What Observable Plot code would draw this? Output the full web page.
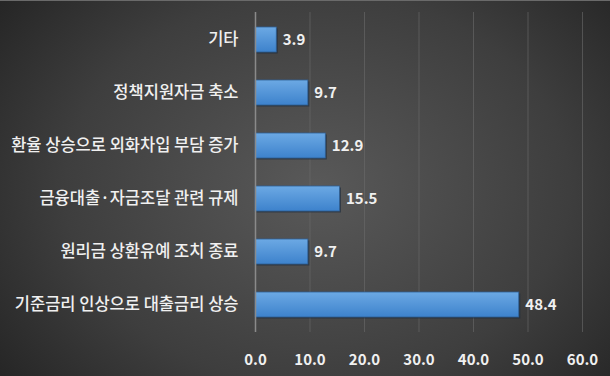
<!DOCTYPE html>
<html><head><meta charset="utf-8">
<script src="https://cdn.jsdelivr.net/npm/d3@7"></script>
<script src="https://cdn.jsdelivr.net/npm/@observablehq/plot@0.6"></script>
<style>
html,body{margin:0;padding:0;}
#chart{width:610px;height:376px;overflow:hidden;
 background: radial-gradient(ellipse 75% 95% at 52% 50%, #595959 0%, #3e3e3e 55%, #1c1c1c 100%);
 border-top:1px solid #6a6a6a; box-sizing:border-box;}
svg{display:block;}
</style></head>
<body><div id="chart"></div>
<script>
const categories = ["기타","정책지원자금 축소","환율 상승으로 외화차입 부담 증가","금융대출·자금조달 관련 규제","원리금 상환유예 조치 종료","기준금리 인상으로 대출금리 상승"];
const values = [3.9, 9.7, 12.9, 15.5, 9.7, 48.4];
const xTicks = [0,10,20,30,40,50,60];
const data = categories.map((c,i)=>({category:c, value:values[i]}));
const font = "'Noto Sans CJK KR', 'Noto Sans', sans-serif";
const chart = Plot.plot({
  width:610, height:375,
  marginLeft:255, marginRight:28, marginTop:11, marginBottom:44,
  style:{background:"transparent", color:"#f0f0f0", fontFamily:font, fontSize:"14px", fontWeight:"bold"},
  x:{domain:[0,60], ticks:xTicks, tickFormat:d=>d.toFixed(1), tickSize:0, tickPadding:22, label:null},
  y:{domain:categories, padding:0.53, paddingOuter:0.265, align:0.5, tickSize:0, tickPadding:17, label:null},
  marks:[
    Plot.gridX(xTicks.slice(1), {stroke:"#6a6a6a", strokeOpacity:0.6, strokeWidth:1}),
    Plot.barX(data, {x:"value", y:"category", fill:"#1a2a3c", fillOpacity:0.6, dx:1.5, dy:1.5}),
    Plot.barX(data, {x:"value", y:"category", fill:"url(#barGrad)", stroke:"#2f5f95", strokeWidth:0.8}),
    Plot.ruleX([0], {stroke:"#8a8a8a", strokeWidth:1.5}),
    Plot.text(data, {x:"value", y:"category", text:d=>d.value.toFixed(1), dx:6, textAnchor:"start", fill:"#f0f0f0", fontSize:15, fontWeight:"bold"}),
    Plot.axisX({ticks:xTicks, tickFormat:d=>d.toFixed(1), tickSize:0, tickPadding:22, fontSize:15, fontWeight:"bold", label:null}),
    Plot.axisY({tickSize:0, tickPadding:17, fontSize:16.5, fontWeight:"500", label:null})
  ]
});
const svg = d3.select(chart);
const defs = svg.insert("defs", ":first-child");
const g = defs.append("linearGradient").attr("id","barGrad").attr("x1",0).attr("y1",0).attr("x2",0).attr("y2",1);
g.append("stop").attr("offset","0%").attr("stop-color","#6ca9e4");
g.append("stop").attr("offset","100%").attr("stop-color","#3d82cc");
document.getElementById("chart").appendChild(chart);
</script></body></html>
